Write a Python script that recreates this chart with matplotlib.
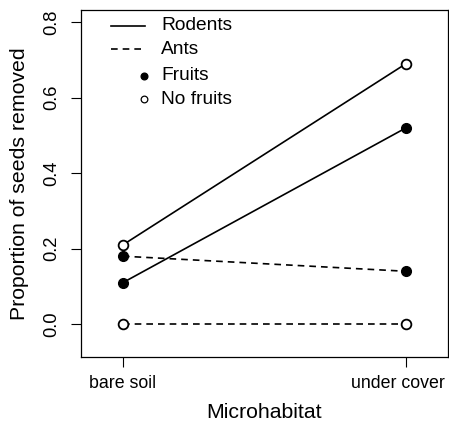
import matplotlib.pyplot as plt
import matplotlib.transforms as mtransforms
from matplotlib.lines import Line2D

plt.rcParams['font.family'] = ['Liberation Sans', 'DejaVu Sans']

habitats = ["bare soil", "under cover"]
rodents_fruits = [0.11, 0.52]
rodents_nofruits = [0.21, 0.69]
ants_fruits = [0.18, 0.14]
ants_nofruits = [0.0, 0.0]
yticks = [0.0, 0.2, 0.4, 0.6, 0.8]

fig = plt.figure(figsize=(4.49, 4.23), dpi=100)
ax = fig.add_axes([81 / 449, 1 - 357 / 423, 367 / 449, 347 / 423])

x = [1, 2]
lw = 1.2
dash = (0, (4, 3))
ms = 7
ax.plot(x, rodents_nofruits, color='black', lw=lw, marker='o', ms=ms,
        mfc='white', mec='black', mew=1.3)
ax.plot(x, rodents_fruits, color='black', lw=lw, marker='o', ms=ms,
        mfc='black', mec='black')
ax.plot(x, ants_fruits, color='black', lw=lw, ls=dash, marker='o', ms=ms,
        mfc='black', mec='black')
ax.plot(x, ants_nofruits, color='black', lw=lw, ls=dash, marker='o', ms=ms,
        mfc='white', mec='black', mew=1.3)

ax.set_xlim(0.852, 2.148)
ax.set_ylim(-0.087, 0.832)
ax.set_xticks(x)
ax.set_xticklabels(habitats, fontsize=12.8)
ax.set_yticks(yticks)
ax.set_yticklabels([f"{v:.1f}" for v in yticks], fontsize=13.2, rotation=90, va='center')
ax.tick_params(direction='out', length=7, width=0.8, pad=6)
ax.tick_params(axis='y', pad=8)
ax.set_xlabel("Microhabitat", fontsize=15.3, labelpad=8)
ax.set_ylabel("Proportion of seeds removed", fontsize=15.3, labelpad=10)
for s in ax.spines.values():
    s.set_linewidth(0.9)

# keep the right tick label inside the figure
shift = mtransforms.ScaledTranslation(-8 / 100, 0, fig.dpi_scale_trans)
lbl = ax.get_xticklabels()[1]
lbl.set_transform(lbl.get_transform() + shift)

# legend, drawn by hand in axes fraction coordinates
def fx(px):
    return (px - 81) / 367

def fy(py):
    return (357 - py) / 347

tr = ax.transAxes
ax.add_line(Line2D([fx(111), fx(145)], [fy(26), fy(26)], color='black', lw=lw, transform=tr))
ax.add_line(Line2D([fx(111), fx(145)], [fy(49), fy(49)], color='black', lw=lw, ls=dash, transform=tr))
ax.add_line(Line2D([fx(144)], [fy(76)], marker='o', ms=4.8, mfc='black', mec='black', transform=tr))
ax.add_line(Line2D([fx(144)], [fy(99)], marker='o', ms=4.8, mfc='white', mec='black', mew=0.9, transform=tr))
for py, lab in [(26, "Rodents"), (49, "Ants"), (76, "Fruits"), (99, "No fruits")]:
    ax.text(fx(161), fy(py), lab, transform=tr, fontsize=13.8, va='center', ha='left')

fig.savefig("out.png", dpi=100)
